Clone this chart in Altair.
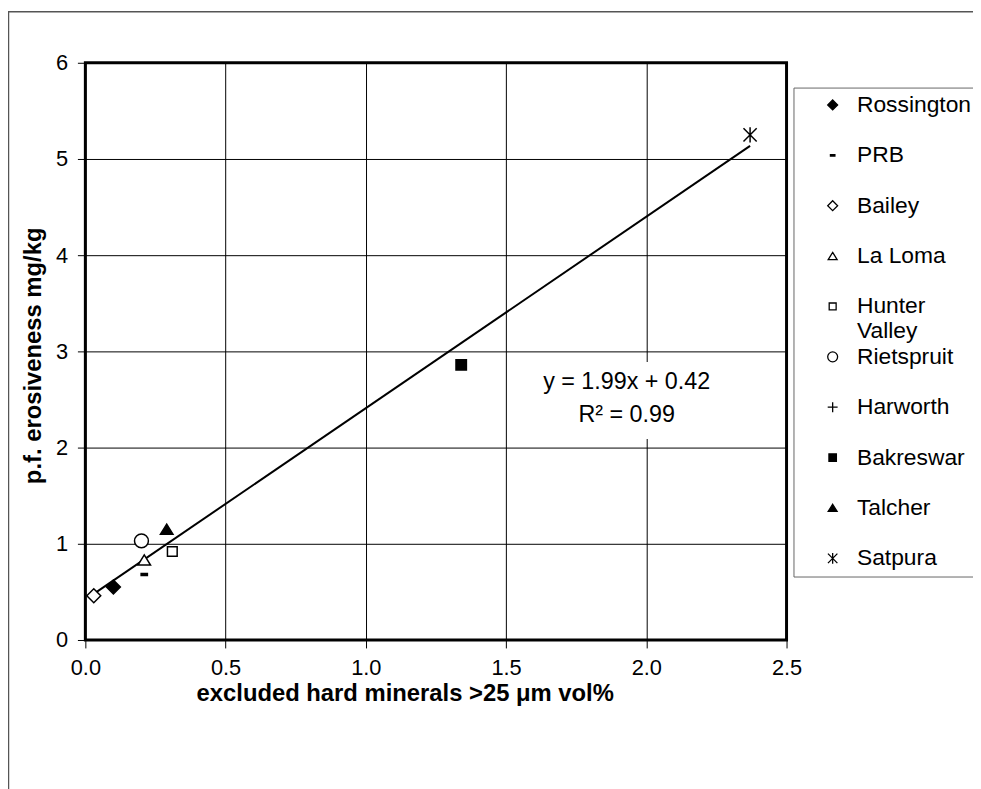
import altair as alt
import pandas as pd
import numpy as np

# ---- data ----
names = ["Rossington", "PRB", "Bailey", "La Loma", "Hunter Valley",
         "Rietspruit", "Harworth", "Bakreswar", "Talcher", "Satpura"]
x_vals = [0.10, 0.21, 0.03, 0.21, 0.31, 0.20, np.nan, 1.34, 0.29, 2.37]
y_vals = [0.55, 0.68, 0.46, 0.83, 0.92, 1.03, np.nan, 2.86, 1.15, 5.25]

slope = 1.99
intercept = 0.42
eq_lines = ["y = 1.99x + 0.42", "R\u00b2 = 0.99"]

x_ticks = [0.0, 0.5, 1.0, 1.5, 2.0, 2.5]
y_ticks = [0, 1, 2, 3, 4, 5, 6]

# ---- styles ----
shape_paths = [
    "M0,-1L1,0L0,1L-1,0Z",                      # filled diamond
    "M-0.45,-0.15H0.45V0.15H-0.45Z",            # dash
    "M0,-1L1,0L0,1L-1,0Z",                      # open diamond
    "M0,-0.75L0.9,0.7H-0.9Z",                   # open triangle
    "M-0.7,-0.7H0.7V0.7H-0.7Z",                 # open square
    "circle",                                   # open circle
    "M-1,0H1M0,-1V1",                           # plus
    "M-0.75,-0.75H0.75V0.75H-0.75Z",            # filled square
    "M0,-0.75L0.9,0.7H-0.9Z",                   # filled triangle
    "M-0.95,-0.95L0.95,0.95M-0.95,0.95L0.95,-0.95M0,-1.1V1.1",  # star
]
fills = ["black", "black", "white", "white", "white",
         "white", "white", "black", "black", "white"]
strokes = ["black"] * len(names)

FONT = "Liberation Sans"

df = pd.DataFrame({"name": names, "x": x_vals, "y": y_vals})
valid = df.dropna()
line_x = [valid["x"].min(), valid["x"].max()]
line_df = pd.DataFrame({"x": line_x, "y": [slope * v + intercept for v in line_x]})

eq_df = pd.DataFrame({"x": [1.93, 1.93], "y": [2.68, 2.34], "t": eq_lines})
box_df = pd.DataFrame({"x": [1.58], "x2": [2.25], "y": [2.89], "y2": [2.09]})

xs = alt.Scale(domain=[0, 2.5], nice=False, zero=False)
ys = alt.Scale(domain=[0, 6], nice=False, zero=False)

# every row (except the last) gets a spare second line so that the wrapped
# "Hunter / Valley" row keeps the same row pitch as the others
label_expr = ("datum.label == 'Hunter Valley' ? ['Hunter', 'Valley'] : "
              "datum.label == 'Satpura' ? datum.label : [datum.label, '']")

legend = alt.Legend(
    title=None, orient="none", legendX=714, legendY=25,
    strokeColor="#666666", fillColor="white", padding=6,
    labelFont=FONT, labelFontSize=23, labelColor="black",
    rowPadding=1.8, symbolSize=100, symbolStrokeColor="black",
    symbolStrokeWidth=1.3, labelOffset=13, symbolOffset=22,
    labelLimit=200, labelExpr=label_expr,
)

frame = alt.Chart(pd.DataFrame({"a": [0]})).mark_rect(
    fillOpacity=0, stroke="#555555", strokeWidth=1.5
).encode(
    x=alt.value(-77.5), x2=alt.value(1500), y=alt.value(-51.5), y2=alt.value(1500)
)

line = alt.Chart(line_df).mark_line(color="black", strokeWidth=2).encode(
    x=alt.X("x:Q", scale=xs,
            axis=alt.Axis(values=x_ticks, format=".1f",
                          title="excluded hard minerals >25 \u03bcm vol%",
                          titleX=322, titleY=54, titleAlign="center",
                          titleBaseline="middle", labelPadding=10,
                          labelFlush=False)),
    y=alt.Y("y:Q", scale=ys,
            axis=alt.Axis(values=y_ticks, format="d",
                          title="p.f. erosiveness mg/kg",
                          titleX=-52, titleY=295, titleAlign="center",
                          titleBaseline="middle", titleAngle=270,
                          labelPadding=10, labelFlush=False)),
)

box = alt.Chart(box_df).mark_rect(fill="white").encode(
    x="x:Q", x2="x2:Q", y="y:Q", y2="y2:Q"
)

eq = alt.Chart(eq_df).mark_text(font=FONT, fontSize=23.5, color="black",
                                align="center", baseline="middle").encode(
    x="x:Q", y="y:Q", text="t:N"
)

points = alt.Chart(df).mark_point(
    strokeWidth=1.5, size=196, opacity=1
).encode(
    x="x:Q", y="y:Q",
    shape=alt.Shape("name:N", scale=alt.Scale(domain=names, range=shape_paths),
                    legend=legend, sort=names),
    fill=alt.Fill("name:N", scale=alt.Scale(domain=names, range=fills),
                  legend=legend, sort=names),
    stroke=alt.Stroke("name:N", scale=alt.Scale(domain=names, range=strokes),
                      legend=legend, sort=names),
)

chart = alt.layer(frame, box, line, eq, points).properties(
    width=707, height=582,
    autosize=alt.AutoSizeParams(type="none"),
    padding={"left": 78, "top": 52, "right": 188, "bottom": 147},
).configure_view(
    stroke="black", strokeWidth=3
).configure_axis(
    grid=True, gridColor="black", gridWidth=1, gridOpacity=1,
    domain=False, tickColor="black", tickSize=8, tickWidth=1,
    labelFont=FONT, labelFontSize=22, labelColor="black",
    titleFont=FONT, titleFontSize=24, titleFontWeight="bold", titleColor="black",
)

chart.save("out.html", embed_options={"renderer": "svg", "actions": False})
